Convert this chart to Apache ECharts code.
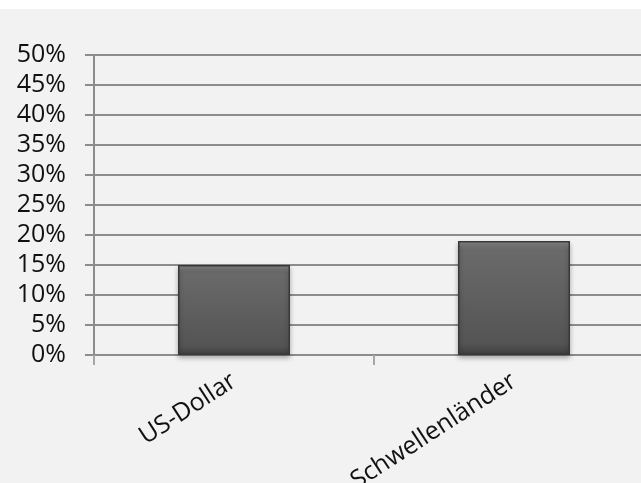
<!DOCTYPE html>
<html>
<head>
<meta charset="utf-8">
<script src="https://cdn.jsdelivr.net/npm/echarts@6/dist/echarts.min.js"></script>
<style>
html,body{margin:0;padding:0;background:#ffffff;}
#wrap{position:relative;width:641px;height:483px;overflow:hidden;}
#chart{position:absolute;left:0;top:9px;width:662px;height:474px;background:#f2f2f2;}
</style>
</head>
<body>
<div id="wrap"><div id="chart"></div></div>
<script>
const categories = ['US-Dollar', 'Schwellenländer'];
const values = [15, 19];
const yTicks = [0, 5, 10, 15, 20, 25, 30, 35, 40, 45, 50];

const chart = echarts.init(document.getElementById('chart'), null, {renderer: 'canvas'});
const lineColor = '#8c8c8c';
chart.setOption({
  backgroundColor: '#f2f2f2',
  animation: false,
  grid: {left: 94, top: 46, bottom: 128, right: 8, containLabel: false, outerBoundsMode: 'none'},
  xAxis: {
    type: 'category',
    data: categories,
    boundaryGap: true,
    axisLine: {show: true, lineStyle: {color: lineColor, width: 2}},
    axisTick: {show: true, length: 10, alignWithLabel: false, lineStyle: {color: '#a6a6a6', width: 2}},
    axisLabel: {rotate: 33, margin: 24, fontFamily: 'Open Sans', fontSize: 25, color: '#111111', interval: 0, hideOverlap: false}
  },
  yAxis: {
    type: 'value',
    min: yTicks[0],
    max: yTicks[yTicks.length - 1],
    interval: 5,
    axisLine: {show: true, lineStyle: {color: lineColor, width: 2}},
    axisTick: {show: true, length: 9, lineStyle: {color: lineColor, width: 2}},
    splitLine: {show: true, lineStyle: {color: lineColor, width: 2}},
    axisLabel: {margin: 28, fontFamily: 'Open Sans', fontSize: 25, color: '#111111',
      formatter: v => v + '%'}
  },
  series: [{
    type: 'bar',
    data: values,
    barWidth: '40%',
    itemStyle: {
      color: new echarts.graphic.LinearGradient(0, 0, 0, 1, [
        {offset: 0, color: '#8a8a8a'},
        {offset: 0.08, color: '#6a6a6a'},
        {offset: 0.5, color: '#5f5f5f'},
        {offset: 0.9, color: '#545454'},
        {offset: 1, color: '#3e3e3e'}
      ]),
      borderColor: '#383838',
      borderWidth: 1.5,
      shadowColor: 'rgba(0,0,0,0.35)',
      shadowBlur: 5,
      shadowOffsetY: 3
    }
  }]
});
</script>
</body>
</html>
